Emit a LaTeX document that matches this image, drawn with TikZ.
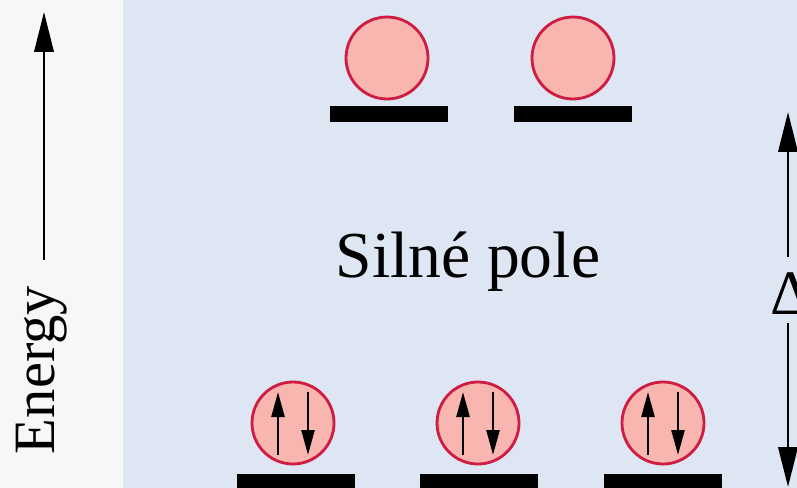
\documentclass[tikz,border=0pt]{standalone}
\usepackage{fontspec}
\setmainfont{Liberation Serif}
\usetikzlibrary{arrows.meta,calc}
\definecolor{fieldblue}{RGB}{221,230,242}
\definecolor{orbpink}{RGB}{249,182,176}
\definecolor{orbred}{RGB}{206,28,66}
\tikzset{
  orbital/.style={circle, draw=orbred, line width=2.4pt, fill=orbpink,
    minimum size=2.46cm, inner sep=0pt},
  levelbar/.style={fill=black, inner sep=0pt, minimum width=3.54cm,
    minimum height=0.48cm},
  spinarrow/.style={-{Triangle[length=7.5mm,width=3.9mm]}, line width=2.1pt},
  bigarrow/.style={-{Triangle[length=1.2cm,width=5.8mm]}, line width=2.3pt}
}

\begin{document}
\begin{tikzpicture}[x=0.03cm, y=-0.03cm]
    \clip (0,0) rectangle (797,488);
    \fill[white!97!black] (0,0) rectangle (123,488);
    \fill[fieldblue] (123,0) rectangle (797,488);
    % energy axis
    \node[rotate=90, font=\fontsize{50pt}{50pt}\selectfont] (energy) at (42,370) {Energy};
    \coordinate (etop) at (44,12);
    \draw[bigarrow] (energy.east) ++(2,-22) coordinate (ebot) -- (etop);
    % upper levels (eg)
    \node[levelbar] (bar1) at (389,114) {};
    \node[levelbar] (bar2) at (573,114) {};
    \node[orbital] (up1) at (387,58) {};
    \node[orbital] (up2) at (573,58) {};
    % lower levels (t2g)
    \node[levelbar] (bar3) at (296,482) {};
    \node[levelbar] (bar4) at (479,482) {};
    \node[levelbar] (bar5) at (663,482) {};
    \foreach \name/\x in {low1/293, low2/478, low3/663} {
      \node[orbital] (\name) at (\x,423) {};
      \draw[spinarrow] ($(\name.center)+(-15,32)$) -- ($(\name.center)+(-15,-31)$);
      \draw[spinarrow] ($(\name.center)+(15,-31)$) -- ($(\name.center)+(15,32)$);
    }
    \node[font=\fontsize{56pt}{56pt}\selectfont] (field) at (468,262) {Silné pole};
    % splitting
    \node[font=\fontsize{54pt}{54pt}\selectfont, inner sep=0pt, anchor=west] (delta) at (770,294) {Δ};
    \coordinate (dtop) at (788,112);
    \coordinate (dbot) at (788,487);
    \draw[bigarrow] (788,257) coordinate (dup) -- (dtop);
    \draw[bigarrow] (788,323) coordinate (ddown) -- (dbot);
  \end{tikzpicture}
\end{document}
